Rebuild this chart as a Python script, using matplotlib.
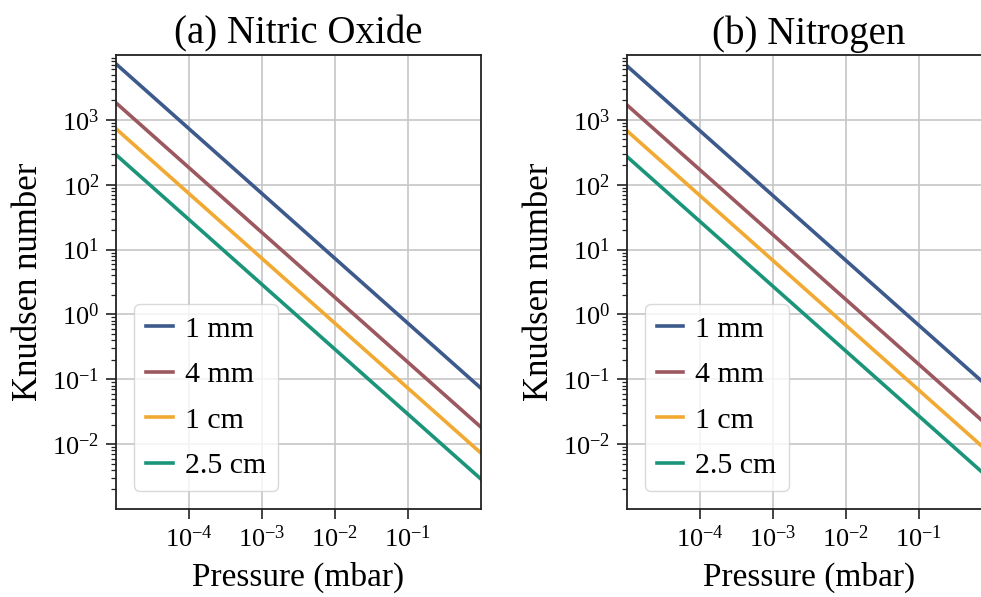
import matplotlib
matplotlib.use('Agg')
import matplotlib.pyplot as plt
from matplotlib.ticker import LogLocator, NullLocator

plt.rcParams['font.family'] = ['Liberation Serif', 'DejaVu Serif']
plt.rcParams['mathtext.fontset'] = 'custom'
plt.rcParams['mathtext.rm'] = 'Liberation Serif'
plt.rcParams['mathtext.it'] = 'Liberation Serif:italic'

# --- Data: Knudsen number at the ends of the pressure range ---
pressure = [1e-5, 1.0]  # mbar
lengths = ['1 mm', '4 mm', '1 cm', '2.5 cm']
kn_nitric_oxide = [
    [7300, 0.073],
    [1830, 0.0183],
    [730, 0.0073],
    [290, 0.0029],
]
kn_nitrogen = [
    [6850, 0.0685],
    [1710, 0.0171],
    [685, 0.00685],
    [274, 0.00274],
]
colors = ['#3d5a8c', '#9c585f', '#f2a931', '#1b957a']

fig = plt.figure(figsize=(9.81, 5.97), dpi=100)
ax_no = fig.add_axes([0.1182, 0.1474, 0.372, 0.7605])
ax_n2 = fig.add_axes([0.6388, 0.1474, 0.372, 0.7605])


def style_axes(ax, title):
    ax.set_xscale('log')
    ax.set_yscale('log')
    ax.set_xlim(1e-5, 1.0)
    ax.set_ylim(1e-3, 1e4)
    ax.set_xticks([1e-4, 1e-3, 1e-2, 1e-1])
    ax.xaxis.set_minor_locator(NullLocator())
    ax.set_yticks([1e-2, 1e-1, 1e0, 1e1, 1e2, 1e3])
    ax.yaxis.set_minor_locator(LogLocator(base=10, subs=range(2, 10), numticks=20))
    ax.grid(True, which='major', color='#c6c6c6', lw=1.2)
    ax.set_axisbelow(True)
    for sp in ax.spines.values():
        sp.set_color('#222222')
        sp.set_linewidth(1.3)
    ax.tick_params(which='major', direction='out', length=7, width=1.2,
                   labelsize=19, color='#222222', pad=5)
    ax.tick_params(which='minor', direction='out', length=3.5, width=0.9,
                   color='#222222')
    ax.set_xlabel('Pressure (mbar)', fontsize=24, labelpad=7)
    ax.set_ylabel('Knudsen number', fontsize=25, labelpad=5)
    ax.set_title(title, fontsize=28, pad=8)


for ax, data, title in [(ax_no, kn_nitric_oxide, '(a) Nitric Oxide'),
                        (ax_n2, kn_nitrogen, '(b) Nitrogen')]:
    for label, kn, c in zip(lengths, data, colors):
        ax.plot(pressure, kn, color=c, lw=2.6, label=label)
    style_axes(ax, title)
    ax.legend(loc='lower left', fontsize=21.5, handlelength=0.9, handletextpad=0.4,
              labelspacing=0.62, borderpad=0.4, framealpha=0.8,
              edgecolor='#d0d0d0', fancybox=True, borderaxespad=0.6)

fig.savefig('out.png', dpi=100)
plt.close(fig)
